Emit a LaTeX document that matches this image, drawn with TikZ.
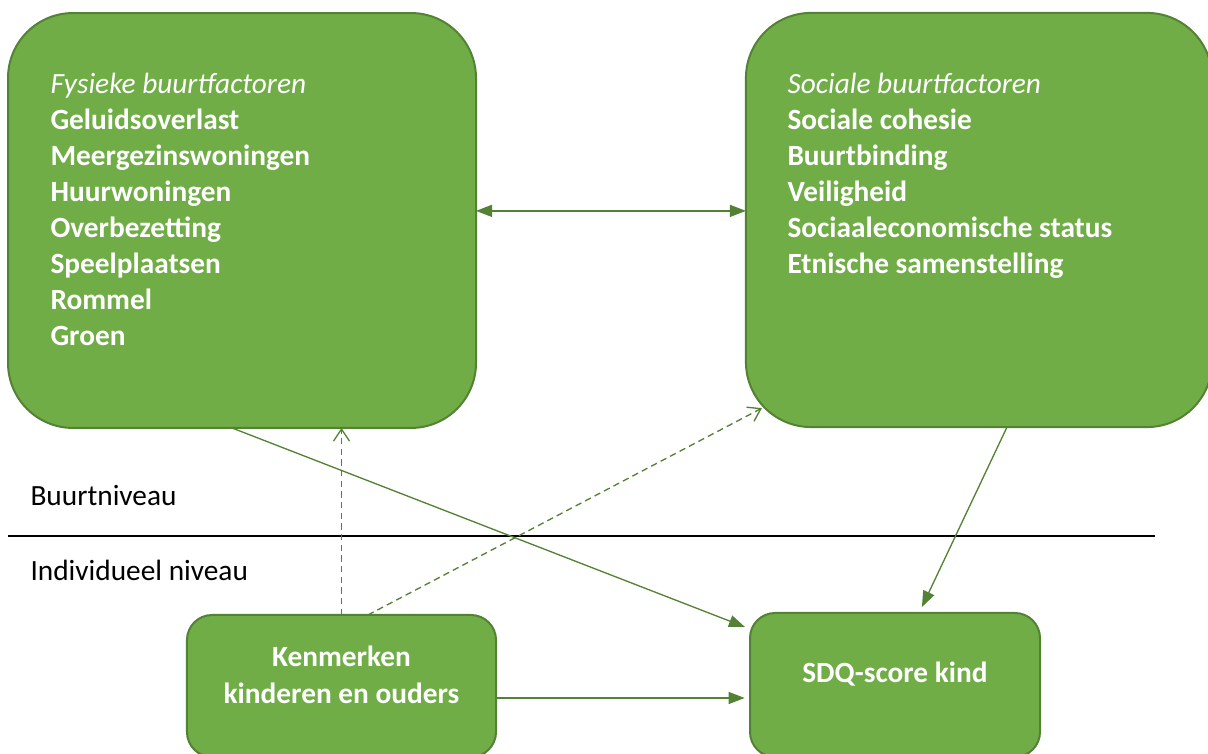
\documentclass[tikz,border=0pt]{standalone}
\usepackage{fontspec}
\setmainfont{Carlito}
\usepackage{xcolor}
\usepackage{tikz}
\usetikzlibrary{arrows.meta,positioning}

\definecolor{grn}{HTML}{70AD47}
\definecolor{dgrn}{HTML}{548235}

\begin{document}
\begin{tikzpicture}[x=0.375pt,y=-0.375pt,
  bx/.style={draw=dgrn,line width=0.75pt,fill=grn,inner sep=0pt,outer sep=0pt},
  tx/.style={text=white,inner sep=0pt,align=left,font=\fontsize{11}{13.5}\selectfont},
  lvl/.style={inner sep=0pt,font=\fontsize{11}{13.5}\selectfont},
  ar/.style={draw=dgrn,line width=0.5pt,-{Triangle[length=6pt,width=4.5pt]}},
  both/.style={draw=dgrn,line width=0.5pt,{Triangle[length=6pt,width=4.5pt]}-{Triangle[length=6pt,width=4.5pt]}},
  da/.style={draw=dgrn,line width=0.5pt,dash pattern=on 2.4pt off 1.6pt,-{Straight Barb[length=4.5pt,width=6pt]}}]
\useasboundingbox (0,0) rectangle (1208,754);
\clip (0,0) rectangle (1208,754);
% buurtniveau
\node[bx,rounded corners=24.4pt,minimum width=175.5pt,minimum height=155.6pt] (fysiek) at (242,220.5) {};
\node[bx,rounded corners=24.4pt,minimum width=174.8pt,minimum height=155.3pt] (sociaal) at (979,220) {};
% (base = baseline of the last line)
\node[tx,anchor=base west] (fysiektxt) at (50,346)
  {\textit{Fysieke buurtfactoren}\\ \textbf{Geluidsoverlast}\\ \textbf{Meergezinswoningen}\\ \textbf{Huurwoningen}\\
   \textbf{Overbezetting}\\ \textbf{Speelplaatsen}\\ \textbf{Rommel}\\ \textbf{Groen}};
\node[tx,anchor=base west] (sociaaltxt) at (787,274)
  {\textit{Sociale buurtfactoren}\\ \textbf{Sociale cohesie}\\ \textbf{Buurtbinding}\\ \textbf{Veiligheid}\\
   \textbf{Sociaaleconomische status}\\ \textbf{Etnische samenstelling}};
% individueel niveau
\node[bx,rounded corners=9.4pt,minimum width=115.9pt,minimum height=53.25pt] (kenm) at (341.5,686) {};
\node[bx,rounded corners=9.4pt,minimum width=108.75pt,minimum height=54pt] (sdq) at (895,685) {};
\node[tx,anchor=base,align=center,font=\bfseries\fontsize{11}{14}\selectfont] (kenmtxt) at (341.5,704)
  {Kenmerken\\kinderen en ouders};
\node[tx,anchor=base,font=\bfseries\fontsize{11}{13.5}\selectfont] (sdqtxt) at (895,683) {SDQ-score kind};
% niveaus
\draw[line width=1pt] (8,536) -- (1155,536);
\node[lvl,anchor=base west] (buurt) at (30,506) {Buurtniveau};
\node[lvl,anchor=base west] (indiv) at (30,581) {Individueel niveau};
% pijlen
\draw[both] ([yshift=3.6pt]fysiek.east) -- ([yshift=3.6pt]fysiek.east -| sociaal.west);
\draw[ar] ([xshift=-3.75pt]fysiek.south) -- ([xshift=-1.9pt,yshift=-5.25pt]sdq.north west);
\draw[ar] ([xshift=10.5pt]sociaal.south) -- ([xshift=10.1pt,yshift=2.25pt]sdq.north);
\draw[ar] ([yshift=-4.5pt]kenm.east) -- ([xshift=-2pt,yshift=-4.5pt]kenm.east -| sdq.west);
\draw[da] (kenm.north) -- (kenm.north |- fysiek.south);
\draw[da] ([xshift=9.9pt]kenm.north) -- ([xshift=6pt,yshift=7.1pt]sociaal.south west);
\end{tikzpicture}
\end{document}
